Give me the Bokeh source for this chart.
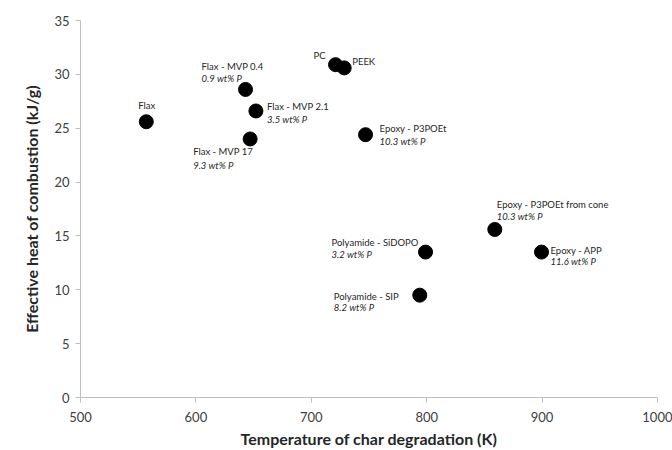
from bokeh.plotting import figure
from bokeh.models import ColumnDataSource, Range1d, SingleIntervalTicker, LabelSet
from bokeh.core.properties import value
from bokeh.embed import file_html
from bokeh.resources import INLINE

# ---- data ----
names = ["Flax", "Flax - MVP 0.4", "Flax - MVP 2.1", "Flax - MVP 17", "PC", "PEEK",
         "Epoxy - P3POEt", "Epoxy - P3POEt from cone", "Polyamide - SiDOPO",
         "Epoxy - APP", "Polyamide - SIP"]
phosphorus = ["", "0.9 wt% P", "3.5 wt% P", "9.3 wt% P", "", "",
              "10.3 wt% P", "10.3 wt% P", "3.2 wt% P", "11.6 wt% P", "8.2 wt% P"]
temperature = [557, 643, 652, 647, 721, 728.5, 747, 859, 799, 899.5, 794]
heat = [25.6, 28.6, 26.6, 24.0, 30.9, 30.6, 24.4, 15.6, 13.5, 13.5, 9.5]

x_ticks_interval = 100
y_ticks_interval = 5

# label layout (pixel offsets, not data)
name_dx = [-8, -44, 11, -57, -22, 8, 14, 2, -94, 9, -86]
name_dy = [16, 23, 4, -13, 9, 6, 6, 25, 10, 2, -1]
pct_dy = [0, 11, -9, -27, 0, 0, -7, 13, -2, -9, -12]

src = ColumnDataSource(dict(x=temperature, y=heat, name=names, pct=phosphorus,
                            ndx=name_dx, ndy=name_dy, pdy=pct_dy))

p = figure(width=672, height=450, output_backend="svg", toolbar_location=None,
           x_range=Range1d(500, 1000), y_range=Range1d(0, 35),
           min_border_left=80, min_border_right=15, min_border_top=20, min_border_bottom=50)
p.outline_line_color = None
p.xgrid.grid_line_color = None
p.ygrid.grid_line_color = None
p.background_fill_color = "white"

p.scatter("x", "y", source=src, size=14, color="black")

FONT = "Lato"
for ax in (p.xaxis[0], p.yaxis[0]):
    ax.axis_line_color = "#bfbfbf"
    ax.major_tick_line_color = "#bfbfbf"
    ax.minor_tick_line_color = None
    ax.major_tick_in = 0
    ax.major_tick_out = 5
    ax.major_label_text_font = FONT
    ax.major_label_text_font_size = "13px"
    ax.major_label_text_color = "#404040"
    ax.axis_label_text_font = FONT
    ax.axis_label_text_font_style = "bold"
    ax.axis_label_text_font_size = "16px"
    ax.axis_label_text_color = "#262626"

p.xaxis[0].ticker = SingleIntervalTicker(interval=x_ticks_interval)
p.yaxis[0].ticker = SingleIntervalTicker(interval=y_ticks_interval)
p.xaxis.axis_label = "Temperature of char degradation (K)"
p.yaxis.axis_label = "Effective heat of combustion (kJ/g)"
p.xaxis.major_label_standoff = 9
p.xaxis.axis_label_standoff = 4
p.yaxis.major_label_standoff = 6
p.yaxis.axis_label_standoff = 10

names_ls = LabelSet(x="x", y="y", text="name", source=src, x_offset="ndx", y_offset="ndy",
                    text_font=value(FONT), text_font_size=value("9.5px"), text_color="#262626",
                    text_baseline="middle", text_align="left")
pct_ls = LabelSet(x="x", y="y", text="pct", source=src, x_offset="ndx", y_offset="pdy",
                  text_font=value(FONT), text_font_size=value("9.5px"), text_color="#262626",
                  text_font_style="italic", text_baseline="middle", text_align="left")
p.add_layout(names_ls)
p.add_layout(pct_ls)

open("out.html", "w").write(file_html(p, INLINE))
